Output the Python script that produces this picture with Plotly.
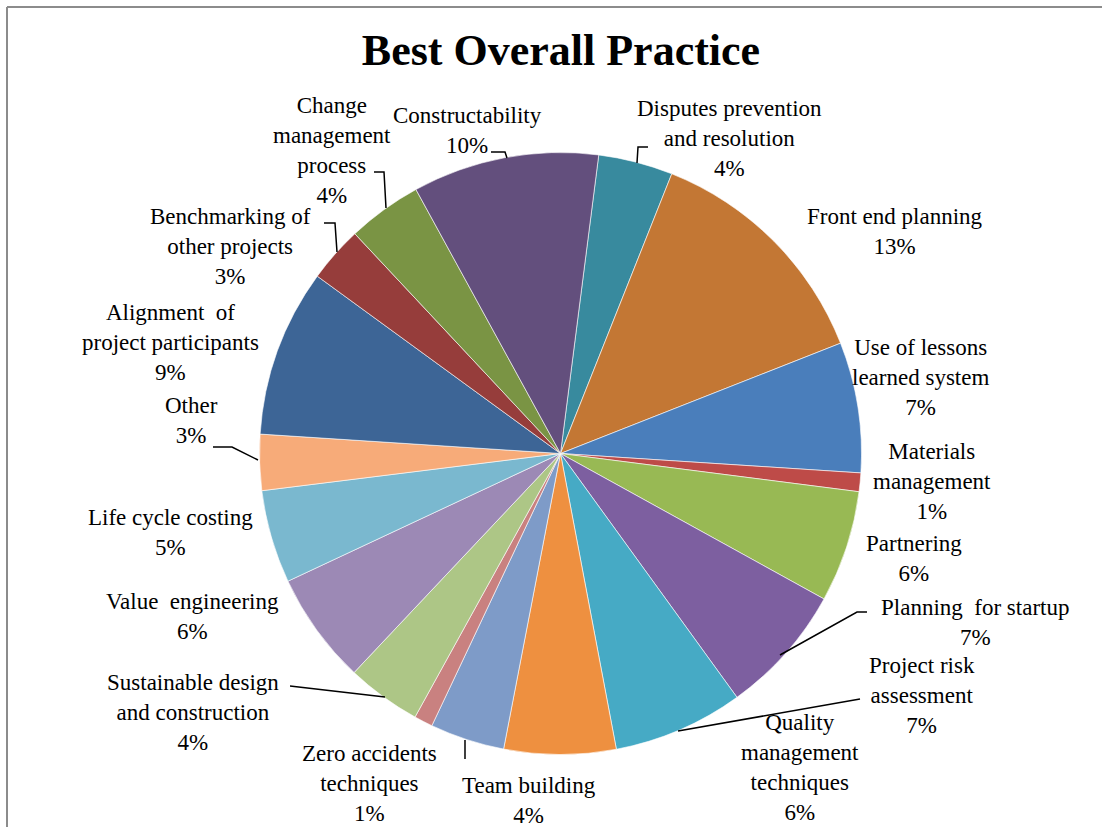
import plotly.graph_objects as go

# Data (clockwise from the slice that starts just right of 12 o'clock)
categories = [
    "Disputes prevention and resolution", "Front end planning",
    "Use of lessons learned system", "Materials management", "Partnering",
    "Planning for startup", "Project risk assessment",
    "Quality management techniques", "Team building",
    "Zero accidents techniques", "Sustainable design and construction",
    "Value engineering", "Life cycle costing", "Other",
    "Alignment of project participants", "Benchmarking of other projects",
    "Change management process", "Constructability",
]
values = [4, 13, 7, 1, 6, 7, 7, 6, 4, 1, 4, 6, 5, 3, 9, 3, 4, 10]
display_labels = [
    "Disputes prevention<br>and resolution", "Front end planning",
    "Use of lessons<br>learned system", "Materials<br>management", "Partnering",
    "Planning  for startup", "Project risk<br>assessment",
    "Quality<br>management<br>techniques", "Team building",
    "Zero accidents<br>techniques", "Sustainable design<br>and construction",
    "Value  engineering", "Life cycle costing", "Other",
    "Alignment  of<br>project participants", "Benchmarking of<br>other projects",
    "Change<br>management<br>process", "Constructability",
]
colors = [
    "#388A9E", "#C37734", "#4A7EBB", "#BE4B48", "#98B954", "#7D5FA0",
    "#46AAC5", "#EE9040", "#7E9BC8", "#C98180", "#ADC686", "#9C89B5",
    "#7AB8CF", "#F7AB79", "#3D6596", "#963D3B", "#7A9444", "#634F7D",
]

# Layout: label block centres (pixels from top-left), in the same order
label_pos = [
    (729, 138), (895, 232), (920, 377), (932, 481), (914, 558),
    (975, 622), (922, 695), (800, 767), (529, 800), (369, 783),
    (193, 712), (192, 616), (170, 532), (191, 420), (170, 342),
    (230, 246), (332, 150), (467, 130),
]
# Leader lines (pixel polylines)
leaders = [
    [(637, 163), (638, 147), (648, 147)],
    [(780, 655), (857, 612), (867, 612)],
    [(678, 731), (860, 699)],
    [(465, 740), (465, 759)],
    [(385, 697), (290, 686)],
    [(258, 460), (232, 447), (213, 447)],
    [(337, 252), (335, 223), (324, 223)],
    [(386, 208), (384, 172), (374, 172)],
    [(507, 158), (505, 152), (491, 152)],
]

W, H = 1102, 827
cx, cy, r = 560.5, 453.5, 301
FONT = "Liberation Serif"

fig = go.Figure(go.Pie(
    labels=categories,
    values=values,
    sort=False,
    direction="clockwise",
    rotation=7.3,
    marker=dict(colors=colors, line=dict(color="white", width=0.6)),
    textinfo="none",
    automargin=False,
    hoverinfo="label+percent",
    showlegend=False,
    domain=dict(x=[(cx - r) / W, (cx + r) / W],
                y=[(H - cy - r) / H, (H - cy + r) / H]),
))

total = sum(values)
annotations = []
for lab, v, (px, py) in zip(display_labels, values, label_pos):
    annotations.append(dict(
        text=f"{lab}<br>{round(100 * v / total)}%",
        xref="paper", yref="paper", x=px / W, y=1 - py / H,
        xanchor="center", yanchor="middle", align="center",
        showarrow=False, font=dict(family=FONT, size=23, color="black"),
    ))

shapes = [
    dict(type="line", xref="paper", yref="paper", x0=7 / W, x1=7 / W,
         y0=-0.05, y1=1 - 7 / H, line=dict(color="#8C8C8C", width=2)),
    dict(type="line", xref="paper", yref="paper", x0=7 / W, x1=1.05,
         y0=1 - 7 / H, y1=1 - 7 / H, line=dict(color="#8C8C8C", width=2)),
]
for pts in leaders:
    path = "M " + " L ".join(f"{x / W:.5f},{1 - y / H:.5f}" for x, y in pts)
    shapes.append(dict(type="path", xref="paper", yref="paper", path=path,
                       line=dict(color="black", width=1.5)))

fig.update_layout(
    width=W, height=H,
    margin=dict(l=0, r=0, t=0, b=0, autoexpand=False),
    paper_bgcolor="white",
    title=dict(text="<b>Best Overall Practice</b>", x=561 / W, xanchor="center",
               y=1 - 50 / H, yanchor="middle",
               font=dict(family=FONT, size=44, color="black")),
    annotations=annotations,
    shapes=shapes,
)

fig.write_html("out.html")
